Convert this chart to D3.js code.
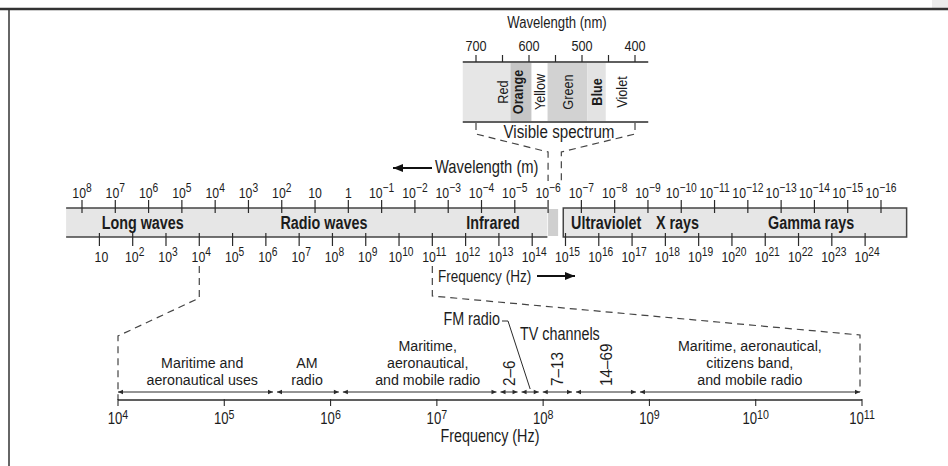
<!DOCTYPE html>
<html><head><meta charset="utf-8">
<script src="https://cdn.jsdelivr.net/npm/d3@7"></script>
<style>
body{margin:0;background:#fff}
svg{display:block}
text{font-family:'Liberation Sans',Arial,Helvetica,sans-serif;fill:#1c1c1c}
</style>
</head><body>
<svg id="c" width="948" height="466"></svg>
<script>
// ---------------- DATA ----------------
const SPEED_OF_LIGHT = 3e8;
const wavelengthExps = [8,7,6,5,4,3,2,1,0,-1,-2,-3,-4,-5,-6,-7,-8,-9,-10,-11,-12,-13,-14,-15,-16];
const frequencyExps = [1,2,3,4,5,6,7,8,9,10,11,12,13,14,15,16,17,18,19,20,21,22,23,24];
const lowBand = [3e8, 1.05e-6];        // wavelength range (m)
const visibleBar = [1e-6, 5e-7];
const highBand = [3.5e-7, 1.7e-17];
const regionNames = ["Long waves","Radio waves","Infrared","Ultraviolet","X rays","Gamma rays"];
const regionCenters = [1.5e6, 5.4, 4.5e-5, 1.8e-8, 1.3e-10, 1.26e-14]; // wavelength (m)

const nmTicks = [700,650,600,550,500,450,400];
const nmLabels = [700,600,500,400];
const spectrumNames = ["Red","Orange","Yellow","Green","Blue","Violet"];
const spectrumFrom = [725,635,595,565,490,455];
const spectrumTo   = [635,595,565,490,455,375];
const spectrumLabelAt = [650,622,580,527,472,425];
const spectrumBold = [false,true,false,false,true,false];
const spectrumShade = ["#e6e6e6","#c6c6c6","#ffffff","#d2d2d2","#e3e3e3","#ffffff"];

const radioExps = [4,5,6,7,8,9,10,11];
const radioBounds = [1e4, 3.0e5, 1.25e6, 3.8e7, 6.0e7, 9.5e7, 1.95e8, 7.8e8, 1e11];
const radioTextLabels = [
  {lines:["Maritime and","aeronautical uses"], at:6.2e4},
  {lines:["AM","radio"], at:6.0e5},
  {lines:["Maritime,","aeronautical,","and mobile radio"], at:8.2e6},
  {lines:["Maritime, aeronautical,","citizens band,","and mobile radio"], at:8.8e9}
];
const tvChannels = ["2\u20136","7\u201313","14\u201369"];
const tvSegments = [3, 5, 6];   // index into radio segments
const fmSegment = 4;

// ---------------- DRAW ----------------
const svg = d3.select("#c");
const ink = "#2a2a2a";
const SX = 0.82;   // condensed look

// condensed text helper
function T(g, px, py, str, o = {}) {
  const t = g.append("text")
    .attr("transform", `translate(${px},${py})${o.rot ? ` rotate(${o.rot})` : ""} scale(${o.sx || SX},1)`)
    .attr("text-anchor", o.anchor || "start")
    .attr("font-size", o.size || 15);
  if (o.bold) t.attr("font-weight", "bold");
  if (o.dy) t.attr("dy", o.dy);
  if (Array.isArray(str)) {
    str.forEach((s, j) => t.append("tspan").attr("x", 0).attr("dy", j === 0 ? 0 : o.lh).text(s));
  } else if (o.exp !== undefined) {
    t.append("tspan").text(str);
    if (o.exp) t.append("tspan").attr("font-size", o.expSize).attr("dy", -o.rise).text(o.exp);
  } else t.text(str);
  return t;
}

// frame
svg.append("rect").attr("x",932).attr("y",0).attr("width",16).attr("height",8).attr("fill","#ececec");
svg.append("line").attr("x1",0).attr("x2",948).attr("y1",9).attr("y2",9).attr("stroke","#333").attr("stroke-width",2.5);
svg.append("line").attr("x1",9).attr("x2",9).attr("y1",9).attr("y2",466).attr("stroke","#333").attr("stroke-width",1.5);

// main scale (wavelength, log)
const x = d3.scaleLog().domain([1e8, 1e-16]).range([82, 881]);
const xf = f => x(SPEED_OF_LIGHT / f);
const bandTop = 208, bandBot = 237;

// band
const band = svg.append("g");
band.append("rect").attr("x", x(lowBand[0])).attr("y", bandTop)
  .attr("width", x(lowBand[1]) - x(lowBand[0])).attr("height", bandBot - bandTop)
  .attr("fill","#e6e6e6");
band.append("path").attr("d", `M${x(lowBand[0])},${bandTop}H${x(lowBand[1])}M${x(lowBand[0])},${bandBot}H${x(lowBand[1])}`)
  .attr("stroke","#444").attr("stroke-width",1.5).attr("fill","none");
band.append("rect").attr("x", x(visibleBar[0])).attr("y", bandTop+1)
  .attr("width", x(visibleBar[1]) - x(visibleBar[0])).attr("height", bandBot - bandTop - 2)
  .attr("fill","#cfcfcf");
band.append("rect").attr("x", x(highBand[0])).attr("y", bandTop)
  .attr("width", x(highBand[1]) - x(highBand[0])).attr("height", bandBot - bandTop)
  .attr("fill","#e6e6e6").attr("stroke","#444").attr("stroke-width",1.5);

// wavelength ticks
const wl = svg.append("g");
wavelengthExps.forEach(e => {
  const px = x(Math.pow(10, e));
  wl.append("line").attr("x1",px).attr("x2",px).attr("y1",200).attr("y2",213).attr("stroke",ink).attr("stroke-width",1.2);
  let base = "10", exp = "";
  if (e === 0) base = "1";
  else if (e > 1) exp = String(e);
  else if (e < 0) exp = "\u2212" + Math.abs(e);
  T(wl, px, 198, base, {anchor:"middle", size:15, exp, expSize:12.5, rise:6});
});

// frequency ticks
const fq = svg.append("g");
frequencyExps.forEach(e => {
  const px = xf(Math.pow(10, e));
  fq.append("line").attr("x1",px).attr("x2",px).attr("y1",233).attr("y2",246).attr("stroke",ink).attr("stroke-width",1.2);
  T(fq, px + 2, 262, "10", {anchor:"middle", size:15, exp: e === 1 ? "" : String(e), expSize:12.5, rise:6});
});

// region names
regionNames.forEach((n, i) => T(svg, x(regionCenters[i]), 229, n, {anchor:"middle", size:17.5, bold:true}));

// axis captions with arrows
function arrow(x0, x1, y, dir) {
  svg.append("line").attr("x1",x0).attr("x2",x1).attr("y1",y).attr("y2",y).attr("stroke","#111").attr("stroke-width",1.8);
  const tip = dir < 0 ? x0 : x1;
  svg.append("path").attr("d", `M${tip},${y}L${tip - dir*10},${y-4}L${tip - dir*10},${y+4}Z`).attr("fill","#111");
}
arrow(393, 432, 168, -1);
T(svg, 435, 173, "Wavelength (m)", {size:18});
T(svg, 438, 282, "Frequency (Hz)", {size:16.5});
arrow(537, 575, 276, 1);

// ---------------- visible spectrum inset ----------------
const nm = d3.scaleLinear().domain([700, 400]).range([476, 635]);
const inset = svg.append("g");
T(svg, 557, 28, "Wavelength (nm)", {anchor:"middle", size:16});
spectrumNames.forEach((n, i) => {
  inset.append("rect").attr("x", nm(spectrumFrom[i])).attr("y", 63)
    .attr("width", nm(spectrumTo[i]) - nm(spectrumFrom[i])).attr("height", 58)
    .attr("fill", spectrumShade[i]);
});
inset.append("line").attr("x1",nm(725)).attr("x2",nm(375)).attr("y1",62).attr("y2",62).attr("stroke",ink).attr("stroke-width",1.3);
inset.append("line").attr("x1",nm(725)).attr("x2",nm(375)).attr("y1",122).attr("y2",122).attr("stroke",ink).attr("stroke-width",1.3);
nmTicks.forEach(v => {
  inset.append("line").attr("x1",nm(v)).attr("x2",nm(v)).attr("y1",55).attr("y2",62).attr("stroke",ink).attr("stroke-width",1.2);
});
nmLabels.forEach(v => T(inset, nm(v), 51, String(v), {anchor:"middle", size:15.5}));
spectrumNames.forEach((n, i) => {
  T(inset, nm(spectrumLabelAt[i]), 92, n, {rot:-90, anchor:"middle", dy:"0.36em", size:15.5, bold:spectrumBold[i]});
});
T(svg, 559, 138, "Visible spectrum", {anchor:"middle", size:18.5});

// dashed connectors
const dash = p => svg.append("path").attr("d", p).attr("fill","none").attr("stroke","#444").attr("stroke-width",1.2).attr("stroke-dasharray","7,5");
dash(`M${nm(700)},123V134L${x(visibleBar[0])},152V181`);
dash(`M${nm(400)},123V134L${x(4e-7)},152V181`);

// ---------------- radio detail ----------------
const rx = d3.scaleLog().domain([1e4, 1e11]).range([118, 862]);
dash(`M${xf(1e4)},266V298L${rx(1e4)},336V400`);
dash(`M${xf(1e11)},266V296L${rx(1e11)-2},335V392`);

const rg = svg.append("g");
rg.append("line").attr("x1",rx(1e4)).attr("x2",rx(1e11)).attr("y1",400).attr("y2",400).attr("stroke",ink).attr("stroke-width",1.4);
radioExps.forEach(e => {
  const px = rx(Math.pow(10, e));
  rg.append("line").attr("x1",px).attr("x2",px).attr("y1",399).attr("y2",406).attr("stroke",ink).attr("stroke-width",1.1);
  T(rg, px, 424, "10", {anchor:"middle", size:16, exp:String(e), expSize:13, rise:5});
});
const ay = 392;
for (let i = 0; i < radioBounds.length - 1; i++) {
  const x0 = rx(radioBounds[i]) + (i === 0 ? 0 : 2);
  const x1 = rx(radioBounds[i+1]) - 2;
  rg.append("line").attr("x1",x0).attr("x2",x1).attr("y1",ay).attr("y2",ay).attr("stroke",ink).attr("stroke-width",1);
  rg.append("path").attr("d",`M${x0},${ay}L${x0+5},${ay-2.2}L${x0+5},${ay+2.2}Z`).attr("fill",ink);
  rg.append("path").attr("d",`M${x1},${ay}L${x1-5},${ay-2.2}L${x1-5},${ay+2.2}Z`).attr("fill",ink);
}
radioTextLabels.forEach(l => {
  const n = l.lines.length;
  T(rg, rx(l.at), 385 - (n - 1) * 17.2, l.lines, {anchor:"middle", size:15.3, sx:0.93, lh:17.2});
});
const segMid = i => Math.sqrt(radioBounds[i] * radioBounds[i+1]);
tvChannels.forEach((c, i) => {
  T(rg, rx(segMid(tvSegments[i])), 386, c, {rot:-90, anchor:"start", dy:"0.36em", size:17, sx:0.9});
});
T(rg, 520, 340, "TV channels", {size:17.5});
T(rg, 500, 325, "FM radio", {anchor:"end", size:17.5});
rg.append("path").attr("d",`M502,321H508L${rx(segMid(fmSegment))},389`).attr("fill","none").attr("stroke",ink).attr("stroke-width",1);
T(rg, 490, 442, "Frequency (Hz)", {anchor:"middle", size:17.5});
</script>
</body></html>
